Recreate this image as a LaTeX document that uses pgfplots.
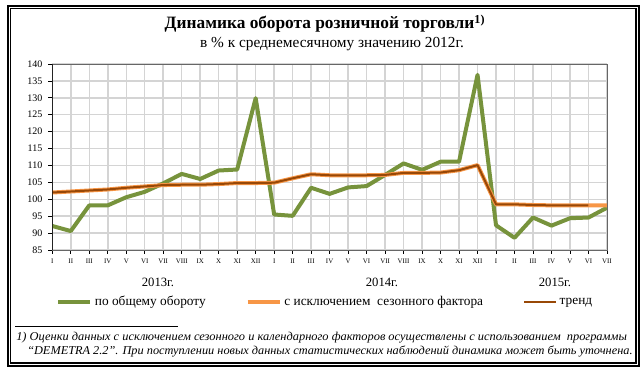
\documentclass[border=0pt]{standalone}
\usepackage{fontspec}
\setmainfont{Liberation Serif}
\usepackage{graphicx}
\usepackage{pgfplots}
\pgfplotsset{compat=1.18}
\definecolor{cgreen}{HTML}{77933C}
\definecolor{corange}{HTML}{F79646}
\definecolor{ctrend}{HTML}{984807}
\definecolor{cgrid}{HTML}{D4D4D4}

\pgfplotstableread{
k total sa
0 92.1 102.0
1 90.6 102.3
2 98.2 102.6
3 98.2 102.9
4 100.6 103.4
5 102.2 103.8
6 104.7 104.2
7 107.5 104.3
8 106.0 104.3
9 108.5 104.5
10 108.8 104.8
11 129.9 104.8
12 95.5 104.9
13 95.1 106.2
14 103.4 107.4
15 101.6 107.1
16 103.5 107.1
17 103.9 107.1
18 107.2 107.2
19 110.6 107.8
20 108.7 107.8
21 111.1 107.9
22 111.1 108.6
23 136.8 110.1
24 92.3 98.5
25 88.6 98.5
26 94.6 98.3
27 92.2 98.2
28 94.4 98.2
29 94.6 98.2
30 97.5 98.2
}\datatable

\pgfplotstableread{
k trend
0 102.0
1 102.3
2 102.6
3 102.9
4 103.4
5 103.8
6 104.2
7 104.3
8 104.3
9 104.5
10 104.8
11 104.8
12 104.9
13 106.2
14 107.4
15 107.1
16 107.1
17 107.1
18 107.2
19 107.8
20 107.8
21 107.9
22 108.6
23 110.1
24 98.5
25 98.5
26 98.3
27 98.2
28 98.2
29 98.2
}\trendtable

\begin{document}
\begin{tikzpicture}[x=0.75pt,y=0.75pt]
\path[use as bounding box] (0,0) rectangle (644,368);
\draw[line width=0.8pt] (8,2) rectangle (639,362);
\draw[line width=0.8pt] (10.5,5) rectangle (636,359.5);
\node[font=\fontsize{13}{15}\selectfont\bfseries, anchor=base] at (325,339) {Динамика оборота розничной торговли\textsuperscript{1)}};
\node[font=\fontsize{11.5}{13}\selectfont, anchor=base] at (332,320) {в \% к среднемесячному значению 2012г.};

\begin{axis}[
  at={(39.225pt,88.5pt)}, anchor=south west, scale only axis,
  width=416pt, height=139.5pt,
  xmin=0, xmax=30, ymin=85, ymax=140,
  ytick={85,90,...,140},
  xtick={0,...,30},
  xticklabels={I,II,III,IV,V,VI,VII,VIII,IX,X,XI,XII,I,II,III,IV,V,VI,VII,VIII,IX,X,XI,XII,I,II,III,IV,V,VI,VII},
  /pgf/number format/assume math mode=true,
  yticklabel style={font=\fontsize{7.5}{8}\selectfont, xshift=-1pt},
  xticklabel style={font=\fontsize{5.2}{6}\selectfont, yshift=-0.5pt},
  grid=major,
  major grid style={cgrid, line width=1.1pt},
  axis line style={draw=gray!80!black, line width=0.6pt},
  tick align=outside, xtick pos=bottom, ytick pos=left,
  major tick length=3pt,
  tick style={black, line width=0.6pt},
  legend columns=3,
  legend style={at={(0.0067,-0.28)}, anchor=west, draw=none, fill=none, inner sep=0pt,
    font=\fontsize{10}{12}\selectfont,
    /tikz/every even column/.append style={column sep=28pt}},
  legend cell align=left,
  legend image code/.code={\draw[#1] (0pt,0pt) -- (24pt,0pt);},
]
\addplot[cgreen, line width=3pt, line join=round] table[x=k, y=total] {\datatable};
\addlegendentry{по общему обороту}
\addplot[corange, line width=3pt, line join=round] table[x=k, y=sa] {\datatable};
\addlegendentry{с исключением\ \ сезонного фактора}
\addplot[ctrend, line width=1.5pt, line join=round] table[x=k, y=trend] {\trendtable};
\addlegendentry{тренд}
\draw[black, line width=0.6pt] (rel axis cs:0,1) -- (rel axis cs:0,0) -- (rel axis cs:1,0);
\end{axis}

\node[font=\fontsize{9.5}{11}\selectfont] at (158,86) {2013г.};
\node[font=\fontsize{9.5}{11}\selectfont] at (382,86) {2014г.};
\node[font=\fontsize{9.5}{11}\selectfont] at (555,86) {2015г.};

\draw[line width=0.5pt] (15,42) -- (178,42);
\node[anchor=base west, inner sep=0pt] at (16,27) {\resizebox{458pt}{\height}{\fontsize{9}{10}\selectfont\itshape 1) Оценки данных с исключением сезонного и календарного факторов осуществлены с использованием\ \ программы}};
\node[anchor=base west, inner sep=0pt] at (27,13) {\resizebox{454pt}{\height}{\fontsize{9}{10}\selectfont\itshape “DEMETRA 2.2”. При поступлении новых данных статистических наблюдений динамика может быть уточнена.}};
\end{tikzpicture}
\end{document}
